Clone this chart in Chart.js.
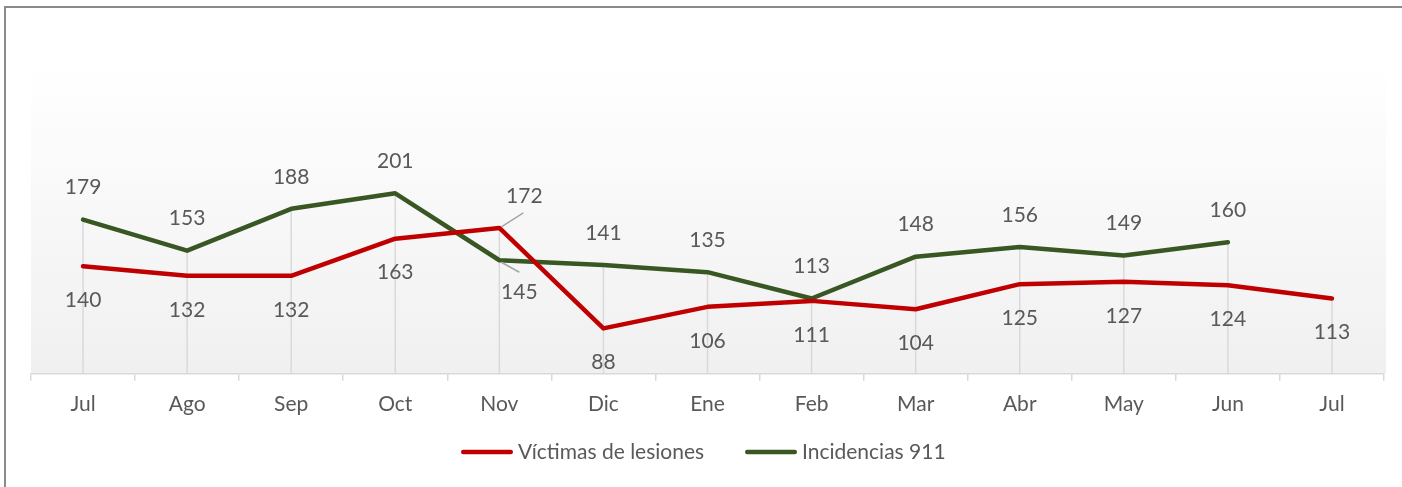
<!DOCTYPE html>
<html>
<head>
<meta charset="utf-8">
<script src="https://cdn.jsdelivr.net/npm/chart.js@4.4.1/dist/chart.umd.min.js"></script>
<style>
  html, body { margin: 0; padding: 0; background: #ffffff; overflow: hidden; }
  #wrap { position: relative; width: 1402px; height: 487px; }
  canvas { display: block; }
</style>
</head>
<body>
<div id="wrap"><canvas id="c" width="1402" height="487"></canvas></div>
<script>
const categories = ['Jul', 'Ago', 'Sep', 'Oct', 'Nov', 'Dic', 'Ene', 'Feb', 'Mar', 'Abr', 'May', 'Jun', 'Jul'];
const victimasLesiones = [140, 132, 132, 163, 172, 88, 106, 111, 104, 125, 127, 124, 113];
const incidencias911 = [179, 153, 188, 201, 145, 141, 135, 113, 148, 156, 149, 160, null];
const seriesNames = ['Víctimas de lesiones', 'Incidencias 911'];

const FONT = 'Lato, "Open Sans", sans-serif';
const FONT_SIZE = 21;
const TEXT_COLOR = '#595959';
const RED = '#c00000';
const GREEN = '#385723';

// Frame + gradient plot background
const backgroundPlugin = {
  id: 'bg',
  beforeDraw(chart) {
    const ctx = chart.ctx;
    const a = chart.chartArea;
    ctx.save();
    ctx.fillStyle = '#ffffff';
    ctx.fillRect(0, 0, chart.width, chart.height);
    const g = ctx.createLinearGradient(0, a.top, 0, a.bottom);
    g.addColorStop(0, '#ffffff');
    g.addColorStop(1, '#f0f0f0');
    ctx.fillStyle = g;
    ctx.fillRect(a.left, a.top, a.right - a.left + 2, a.bottom - a.top);
    ctx.strokeStyle = '#8a8a8a';
    ctx.lineWidth = 2;
    ctx.strokeRect(5, 7, chart.width + 20, chart.height + 20);
    ctx.restore();
  }
};

// Drop lines from the highest point of each category to the axis
const dropLinesPlugin = {
  id: 'dropLines',
  beforeDatasetsDraw(chart) {
    const ctx = chart.ctx;
    const y = chart.scales.y;
    const bottom = chart.chartArea.bottom;
    ctx.save();
    ctx.strokeStyle = '#d9d9d9';
    ctx.lineWidth = 1.5;
    categories.forEach((c, i) => {
      let topY = null, x = null;
      chart.data.datasets.forEach((ds, di) => {
        const v = ds.data[i];
        if (v === null || v === undefined) return;
        const el = chart.getDatasetMeta(di).data[i];
        x = el.x;
        const py = y.getPixelForValue(v);
        if (topY === null || py < topY) topY = py;
      });
      if (topY !== null) {
        ctx.beginPath();
        ctx.moveTo(x, topY);
        ctx.lineTo(x, bottom);
        ctx.stroke();
      }
    });
    ctx.restore();
  }
};

// Data labels
const labelsPlugin = {
  id: 'valueLabels',
  afterDatasetsDraw(chart) {
    const ctx = chart.ctx;
    ctx.save();
    ctx.font = FONT_SIZE + 'px ' + FONT;
    ctx.fillStyle = TEXT_COLOR;
    ctx.textAlign = 'center';
    ctx.textBaseline = 'middle';
    chart.data.datasets.forEach((ds, di) => {
      const meta = chart.getDatasetMeta(di);
      ds.data.forEach((v, i) => {
        if (v === null || v === undefined) return;
        const el = meta.data[i];
        const special = ds.labelSpecial && ds.labelSpecial[i];
        if (special) {
          ctx.strokeStyle = '#a6a6a6';
          ctx.lineWidth = 1.5;
          ctx.beginPath();
          ctx.moveTo(el.x + 2, el.y + special.l0);
          ctx.lineTo(el.x + special.lx, el.y + special.ly);
          ctx.stroke();
          ctx.fillText(String(v), el.x + special.tx, el.y + special.ty);
        } else {
          ctx.fillText(String(v), el.x, el.y + ds.labelOffset);
        }
      });
    });
    ctx.restore();
  }
};

// Legend
const legendPlugin = {
  id: 'customLegend',
  afterDraw(chart) {
    const ctx = chart.ctx;
    ctx.save();
    ctx.font = FONT_SIZE + 'px ' + FONT;
    const lineW = 52, gap = 5;
    const starts = [461, 745];
    const y = 452;
    chart.data.datasets.forEach((ds, di) => {
      const x = starts[di];
      ctx.strokeStyle = ds.borderColor;
      ctx.lineWidth = 4.5;
      ctx.lineCap = 'round';
      ctx.beginPath();
      ctx.moveTo(x + 2.25, y);
      ctx.lineTo(x + lineW - 2.25, y);
      ctx.stroke();
      ctx.fillStyle = TEXT_COLOR;
      ctx.textAlign = 'left';
      ctx.textBaseline = 'middle';
      ctx.fillText(ds.label, x + lineW + gap, y);
    });
    ctx.restore();
  }
};

new Chart(document.getElementById('c'), {
  type: 'line',
  data: {
    labels: categories,
    datasets: [
      {
        label: seriesNames[0],
        data: victimasLesiones,
        borderColor: RED,
        backgroundColor: RED,
        borderWidth: 4.5,
        pointRadius: 0,
        tension: 0,
        borderCapStyle: 'round',
        borderJoinStyle: 'round',
        labelOffset: 34,
        labelSpecial: { 4: { l0: -1, lx: 24, ly: -15, tx: 25, ty: -32 } }
      },
      {
        label: seriesNames[1],
        data: incidencias911,
        borderColor: GREEN,
        backgroundColor: GREEN,
        borderWidth: 4.5,
        pointRadius: 0,
        tension: 0,
        borderCapStyle: 'round',
        borderJoinStyle: 'round',
        spanGaps: false,
        labelOffset: -32,
        labelSpecial: { 4: { l0: 2, lx: 20, ly: 12, tx: 20, ty: 32 } }
      }
    ]
  },
  options: {
    responsive: false,
    animation: false,
    devicePixelRatio: 1,
    layout: { padding: { left: 31, right: 18, top: 63, bottom: 59 } },
    plugins: { legend: { display: false }, tooltip: { enabled: false } },
    scales: {
      x: {
        offset: true,
        grid: {
          offset: true,
          drawOnChartArea: false,
          drawTicks: true,
          tickLength: 7,
          color: '#d9d9d9',
          lineWidth: 1.5
        },
        border: { color: '#d9d9d9', width: 1.5 },
        ticks: {
          color: TEXT_COLOR,
          font: { family: FONT, size: FONT_SIZE },
          padding: 11,
          maxRotation: 0,
          autoSkip: false
        }
      },
      y: {
        display: false,
        min: 50,
        max: 310
      }
    }
  },
  plugins: [backgroundPlugin, dropLinesPlugin, labelsPlugin, legendPlugin]
});
</script>
</body>
</html>
